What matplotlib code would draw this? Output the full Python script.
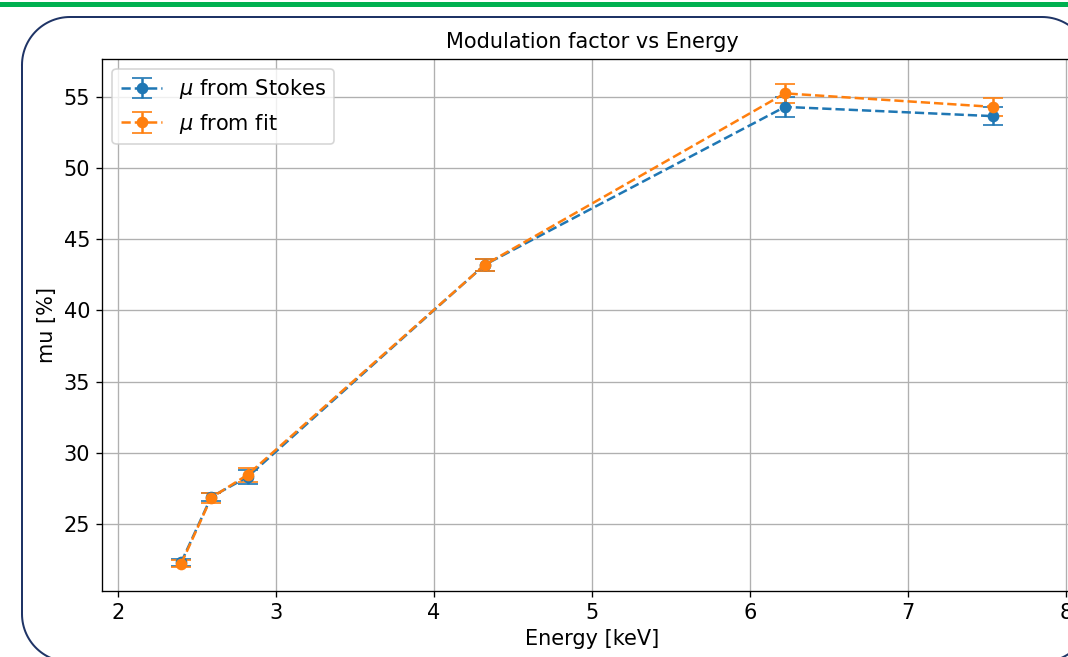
import matplotlib
matplotlib.use('Agg')
import matplotlib.pyplot as plt
import numpy as np
from matplotlib.patches import Rectangle

# Data
energy = [2.40, 2.59, 2.82, 4.32, 6.22, 7.54]
mu_stokes = [22.3, 26.9, 28.3, 43.2, 54.3, 53.65]
err_stokes = [0.25, 0.30, 0.50, 0.40, 0.70, 0.65]
mu_fit = [22.2, 26.85, 28.45, 43.2, 55.25, 54.3]
err_fit = [0.25, 0.35, 0.50, 0.40, 0.65, 0.65]

W, H = 1068, 657
DPI = 120
plt.rcParams['font.size'] = 12.5
fig = plt.figure(figsize=(W / DPI, H / DPI), dpi=DPI)

# Slide decoration (green rule + rounded frame), drawn in pixel units (y down)
bg = fig.add_axes([0, 0, 1, 1], zorder=0)
bg.set_xlim(0, W)
bg.set_ylim(H, 0)
bg.axis('off')
bg.add_patch(Rectangle((0, 1.7), W, 5.6, color='#00b050', lw=0))

# rounded frame outline: left 22, top 17, right 1090, bottom 662, radius 48
x0, y0, x1, y1, r = 22, 17, 1090, 662, 48
t = np.linspace(0, np.pi / 2, 30)
xs = np.concatenate([x0 + r - r * np.cos(t),            # top-left
                     x1 - r + r * np.sin(t),            # top-right
                     x1 - r + r * np.cos(t),            # bottom-right
                     x0 + r - r * np.sin(t), [x0]])     # bottom-left
ys = np.concatenate([y0 + r - r * np.sin(t),
                     y0 + r - r * np.cos(t),
                     y1 - r + r * np.sin(t),
                     y1 - r + r * np.cos(t), [y0 + r]])
bg.plot(xs, ys, color='#1f3466', lw=1.2)

# Main chart
ax = fig.add_axes([102 / W, (H - 591) / H, 980 / W, 532.5 / H], zorder=2)
ax.errorbar(energy, mu_stokes, yerr=err_stokes, fmt='o--', capsize=6,
            label=r'$\mu$ from Stokes')
ax.errorbar(energy, mu_fit, yerr=err_fit, fmt='o--', capsize=6,
            label=r'$\mu$ from fit')
ax.set_xlim(1.899, 8.1)
ax.set_ylim(20.29, 57.7)
ax.set_title('Modulation factor vs Energy', fontsize=12.5)
ax.set_xlabel('Energy [keV]')
ax.set_ylabel('mu [%]')
ax.grid(True)
ax.legend(loc='upper left')

fig.savefig('out.png', dpi=DPI)
